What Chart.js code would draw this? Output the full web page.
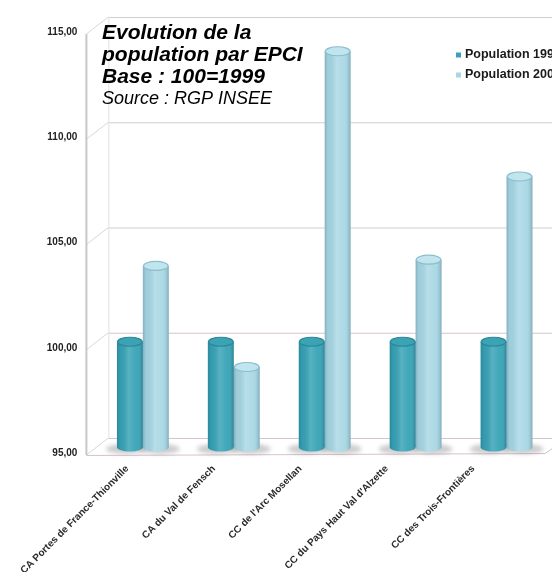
<!DOCTYPE html>
<html lang="fr">
<head>
<meta charset="utf-8">
<title>Evolution de la population par EPCI</title>
<script src="https://cdn.jsdelivr.net/npm/chart.js@4.4.1/dist/chart.umd.min.js"></script>
<style>
  html, body { margin: 0; padding: 0; background: #ffffff; overflow: hidden; }
  canvas { display: block; }
</style>
</head>
<body>
<canvas id="chart" width="552" height="572"></canvas>
<script>
// EPCI names (x categories)
const categories = [
  "CA Portes de France-Thionville",
  "CA du Val de Fensch",
  "CC de l'Arc Mosellan",
  "CC du Pays Haut Val d'Alzette",
  "CC des Trois-Frontières"
];
// Index values, base 100 = 1999
const pop1999 = [100, 100, 100, 100, 100];
const pop2006 = [103.6, 98.8, 113.8, 103.9, 107.85];
const seriesNames = ["Population 1999", "Population 2006"];
const yTicks = [95, 100, 105, 110, 115];
const titleLines = ["Evolution de la", "population par EPCI", "Base : 100=1999"];
const sourceLine = "Source : RGP INSEE";

const FONT = "Arial, 'Liberation Sans', Helvetica, sans-serif";
const DARK = '#37a3b6';
const LIGHT = '#a9d8e5';
const CAP = { [DARK]: ['#3ba3b4', '#2a8797'], [LIGHT]: ['#c0e5ef', '#8dbccb'] };

// Offsets of the front and back planes of the pseudo-3D box, relative to the bar plane
const DEPTH = { fx: -11, fy: 8, bx: 11, by: -9 };

const fmt = v => v.toFixed(2).replace('.', ',');

// Walls, floor and gridlines drawn behind the bars; caps and shading over them
const frame3d = {
  id: 'frame3d',
  beforeDraw(chart) {
    const { ctx, width, height } = chart;
    ctx.save();
    ctx.fillStyle = '#ffffff';
    ctx.fillRect(0, 0, width, height);
    ctx.restore();
  },
  beforeDatasetsDraw(chart) {
    const { ctx, chartArea: a, scales: { y } } = chart;
    const fxL = a.left + DEPTH.fx, bxL = a.left + DEPTH.bx;
    const fxR = a.right - 7, bxR = a.right + 15;
    const yMin = y.getPixelForValue(yTicks[0]);
    const yMax = y.getPixelForValue(yTicks[yTicks.length - 1]);
    ctx.save();
    ctx.lineWidth = 1;
    // back wall gridlines and side-wall diagonals
    yTicks.forEach(v => {
      const p = y.getPixelForValue(v);
      ctx.strokeStyle = v === 100 || v === 95 ? '#d6c3d2' : '#cfcfcf';
      ctx.beginPath();
      ctx.moveTo(bxL, p + DEPTH.by + 0.5);
      ctx.lineTo(bxR, p + DEPTH.by + 0.5);
      ctx.stroke();
      ctx.strokeStyle = '#d8d8d8';
      ctx.beginPath();
      ctx.moveTo(fxL, p + DEPTH.fy);
      ctx.lineTo(bxL, p + DEPTH.by);
      ctx.stroke();
    });
    // back-left edge
    ctx.strokeStyle = '#e0e0e0';
    ctx.beginPath();
    ctx.moveTo(bxL + 0.5, yMax + DEPTH.by);
    ctx.lineTo(bxL + 0.5, yMin + DEPTH.by);
    ctx.stroke();
    // floor front edge and right edge
    ctx.strokeStyle = '#d6c3d2';
    ctx.beginPath();
    ctx.moveTo(fxL, yMin + DEPTH.fy + 0.5);
    ctx.lineTo(fxR, yMin + DEPTH.fy - 1.5);
    ctx.lineTo(bxR, yMin + DEPTH.by + 0.5);
    ctx.stroke();
    // front-left edge
    ctx.strokeStyle = '#c8c8c8';
    ctx.lineWidth = 2;
    ctx.beginPath();
    ctx.moveTo(fxL, yMax + DEPTH.fy);
    ctx.lineTo(fxL, yMin + DEPTH.fy);
    ctx.stroke();

    // soft shadows of the cylinders on the floor
    ctx.filter = 'blur(2px)';
    chart.data.datasets.forEach((ds, di) => {
      chart.getDatasetMeta(di).data.forEach(el => {
        ctx.fillStyle = 'rgba(110,110,110,0.35)';
        ctx.beginPath();
        ctx.ellipse(el.x + (di === 0 ? -4 : 4), el.base + 2, el.width / 2 + 7, 5, 0, 0, Math.PI * 2);
        ctx.fill();
      });
    });
    ctx.restore();
  },
  afterDatasetsDraw(chart) {
    const { ctx } = chart;
    ctx.save();
    chart.data.datasets.forEach((ds, di) => {
      const base = ds.backgroundColor;
      chart.getDatasetMeta(di).data.forEach(el => {
        const l = el.x - el.width / 2, r = el.x + el.width / 2, w = el.width;
        const rx = w / 2, ry = 4.5;
        // rounded bottom
        ctx.fillStyle = base;
        ctx.beginPath();
        ctx.ellipse(el.x, el.base, rx, ry, 0, 0, Math.PI);
        ctx.fill();
        // cylindrical shading
        const g = ctx.createLinearGradient(l, 0, r, 0);
        g.addColorStop(0, 'rgba(0,40,60,0.22)');
        g.addColorStop(0.12, 'rgba(0,40,60,0.06)');
        g.addColorStop(0.45, 'rgba(255,255,255,0.16)');
        g.addColorStop(0.75, 'rgba(255,255,255,0.04)');
        g.addColorStop(1, 'rgba(0,40,60,0.25)');
        ctx.fillStyle = g;
        ctx.beginPath();
        ctx.moveTo(l, el.y);
        ctx.lineTo(r, el.y);
        ctx.lineTo(r, el.base);
        ctx.ellipse(el.x, el.base, rx, ry, 0, 0, Math.PI);
        ctx.closePath();
        ctx.fill();
        // top cap
        const [capFill, capRim] = CAP[base];
        ctx.fillStyle = capFill;
        ctx.strokeStyle = capRim;
        ctx.lineWidth = 1.2;
        ctx.beginPath();
        ctx.ellipse(el.x, el.y, rx - 0.6, ry, 0, 0, Math.PI * 2);
        ctx.fill();
        ctx.stroke();
      });
    });
    ctx.restore();
  },
  afterDraw(chart) {
    const { ctx } = chart;
    ctx.save();
    // title block
    ctx.fillStyle = '#000000';
    ctx.textBaseline = 'alphabetic';
    ctx.textAlign = 'left';
    ctx.font = 'italic bold 21px ' + FONT;
    titleLines.forEach((t, i) => ctx.fillText(t, 102, 39 + i * 22));
    ctx.font = 'italic 18px ' + FONT;
    ctx.fillText(sourceLine, 102, 104);
    // legend
    ctx.font = 'bold 12.5px ' + FONT;
    ctx.textBaseline = 'middle';
    chart.data.datasets.forEach((ds, i) => {
      const cy = 55 + i * 20;
      ctx.fillStyle = ds.backgroundColor;
      ctx.fillRect(456, cy - 2.5, 5, 5);
      ctx.fillStyle = '#1a1a1a';
      ctx.fillText(ds.label, 465, cy);
    });
    ctx.restore();
  }
};

new Chart(document.getElementById('chart'), {
  type: 'bar',
  data: {
    labels: categories,
    datasets: [
      { label: seriesNames[0], data: pop1999, base: yTicks[0], backgroundColor: DARK, xAxisID: 'x', yAxisID: 'y' },
      { label: seriesNames[1], data: pop2006, base: yTicks[0], backgroundColor: LIGHT, xAxisID: 'x', yAxisID: 'y' }
    ]
  },
  options: {
    responsive: false,
    animation: false,
    devicePixelRatio: 1,
    layout: { padding: { top: 20, right: 0, bottom: 0, left: 0 } },
    datasets: {
      bar: { categoryPercentage: 0.57, barPercentage: 1.0, borderWidth: 0 }
    },
    plugins: {
      legend: { display: false },
      title: { display: false },
      tooltip: { enabled: false }
    },
    scales: {
      x: {
        type: 'category',
        display: false,
        offset: true
      },
      // category names, placed along the front edge of the floor
      xl: {
        type: 'linear',
        position: 'bottom',
        offset: false,
        min: -0.346,
        max: 4.91,
        bounds: 'data',
        grid: { display: false, drawTicks: false, offset: false },
        border: { display: false },
        afterBuildTicks: s => { s.ticks = categories.map((_, i) => ({ value: i })); },
        afterFit: s => { s.height = 125; },
        ticks: {
          autoSkip: false,
          maxRotation: 45,
          minRotation: 45,
          padding: 16,
          color: '#2b2b2b',
          font: { family: FONT, size: 10, weight: 'bold' },
          callback: v => categories[v]
        }
      },
      y: {
        type: 'linear',
        min: yTicks[0],
        max: yTicks[yTicks.length - 1],
        grid: { display: false, drawTicks: false },
        border: { display: false },
        afterBuildTicks: s => { s.ticks = yTicks.map(v => ({ value: v })); },
        afterFit: s => { s.width = 96; },
        ticks: {
          padding: 20,
          labelOffset: 6,
          color: '#222222',
          font: { family: FONT, size: 10, weight: 'bold' },
          callback: v => fmt(v)
        }
      }
    }
  },
  plugins: [frame3d]
});
</script>
</body>
</html>
